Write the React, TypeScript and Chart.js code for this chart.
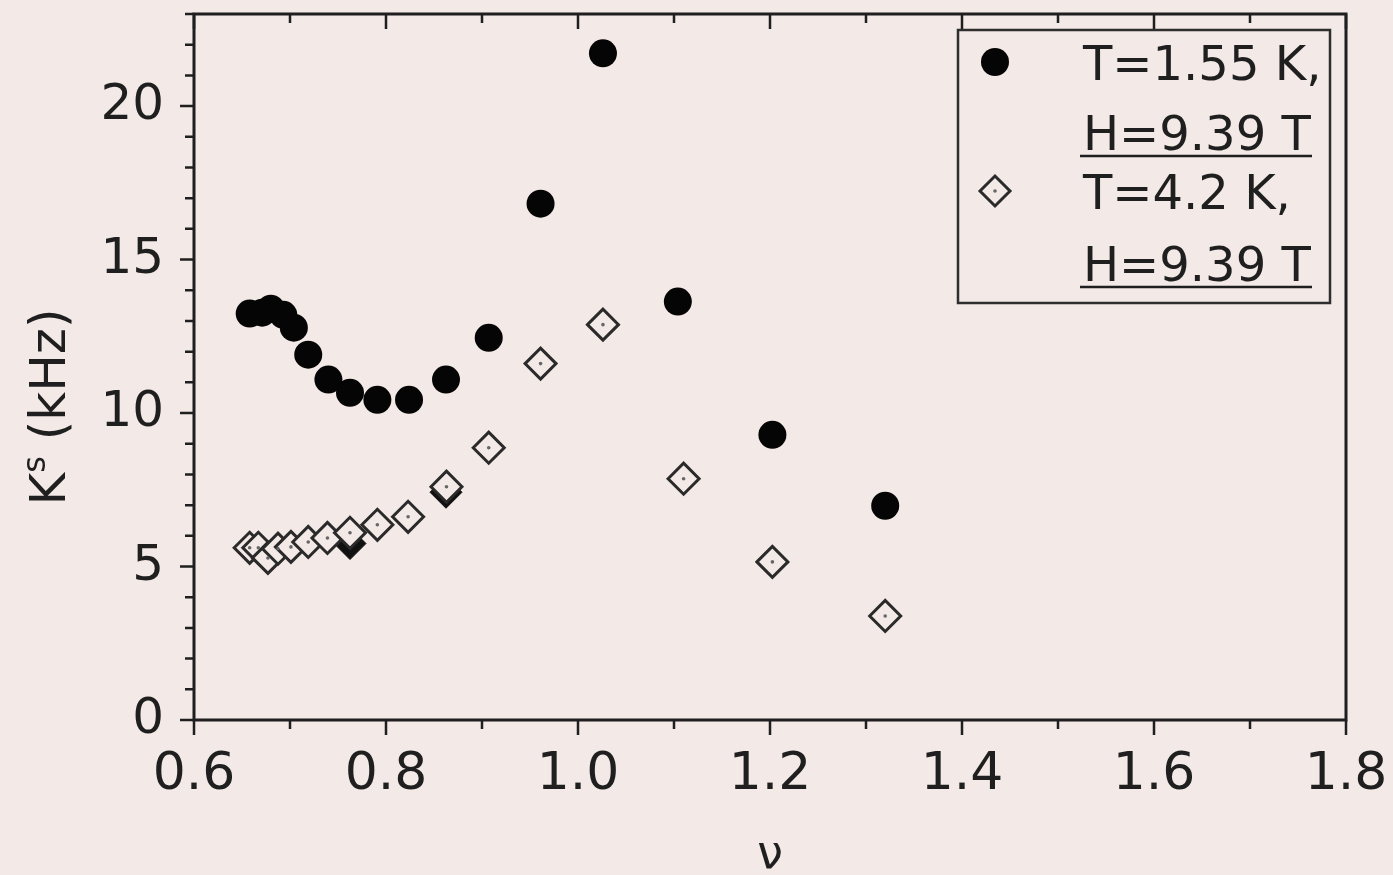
import React, { useEffect, useRef } from 'react';
import { Chart, registerables } from 'chart.js';

Chart.register(...registerables);

// T = 1.55 K, H = 9.39 T  (filled circles)
const nuCold = [0.658, 0.671, 0.680, 0.693, 0.704, 0.719, 0.740, 0.7625, 0.791, 0.824, 0.8625, 0.907, 0.961, 1.026, 1.104, 1.2025, 1.320];
const ksCold = [13.24, 13.27, 13.40, 13.20, 12.78, 11.90, 11.09, 10.66, 10.43, 10.43, 11.09, 12.45, 16.82, 21.72, 13.63, 9.29, 6.98];

// T = 4.2 K, H = 9.39 T  (open diamonds)
const nuWarm = [0.658, 0.667, 0.677, 0.6875, 0.701, 0.719, 0.739, 0.7625, 0.791, 0.823, 0.863, 0.907, 0.961, 1.026, 1.110, 1.2025, 1.320];
const ksWarm = [5.61, 5.61, 5.28, 5.58, 5.64, 5.80, 5.93, 6.10, 6.36, 6.62, 7.60, 8.87, 11.61, 12.88, 7.86, 5.15, 3.39];

// dark marks partly hidden beneath two diamonds
const nuHidden = [0.7625, 0.8625];
const ksHidden = [5.75, 7.42];

const xMin = 0.6;
const xMax = 1.8;
const yMin = 0;
const yMax = 23;
const xMajorStep = 0.2;
const yMajorStep = 5;

const legendLabels = ['T=1.55 K,', 'H=9.39 T', 'T=4.2 K,', 'H=9.39 T'];
const xTitle = 'ν';
const yTitleMain = 'K';
const yTitleSup = 's';
const yTitleRest = ' (kHz)';

const BG = '#f3e9e6';
const INK = '#1f1f1f';
const FONT = '"DejaVu Sans", "Liberation Sans", sans-serif';

const toPts = (xs: number[], ys: number[]) => xs.map((x, i) => ({ x, y: ys[i] }));

function drawDiamond(ctx: CanvasRenderingContext2D, x: number, y: number, r: number) {
  ctx.beginPath();
  ctx.moveTo(x - r, y);
  ctx.lineTo(x, y - r);
  ctx.lineTo(x + r, y);
  ctx.lineTo(x, y + r);
  ctx.closePath();
}

const framePlugin = {
  id: 'frame',
  beforeDraw(chart: any) {
    const { ctx, width, height } = chart;
    ctx.save();
    ctx.fillStyle = BG;
    ctx.fillRect(0, 0, width, height);
    ctx.restore();
  },
  beforeDatasetsDraw(chart: any) {
    const { ctx, chartArea } = chart;
    const xs = chart.scales.x;
    const ys = chart.scales.y;
    const { left, right, top, bottom } = chartArea;
    ctx.save();
    ctx.strokeStyle = INK;
    ctx.lineWidth = 3;
    ctx.lineCap = 'butt';
    // frame
    ctx.beginPath();
    ctx.moveTo(left, top);
    ctx.lineTo(right, top);
    ctx.moveTo(left, bottom);
    ctx.lineTo(right, bottom);
    ctx.moveTo(left, top - 1.5);
    ctx.lineTo(left, bottom + 1.5);
    ctx.moveTo(right, top - 1.5);
    ctx.lineTo(right, bottom + 1.5);
    ctx.stroke();
    // x ticks (bottom outward, top inward)
    ctx.lineWidth = 2.5;
    ctx.beginPath();
    const nX = Math.round((xMax - xMin) / (xMajorStep / 2));
    for (let i = 0; i <= nX; i++) {
      const v = xMin + (i * xMajorStep) / 2;
      const px = xs.getPixelForValue(v);
      const len = i % 2 === 0 ? 15 : 9;
      ctx.moveTo(px, bottom);
      ctx.lineTo(px, bottom + len);
      ctx.moveTo(px, top);
      ctx.lineTo(px, top + len);
    }
    // y ticks (left outward)
    for (let j = yMin; j <= yMax; j++) {
      const py = ys.getPixelForValue(j);
      const len = j % yMajorStep === 0 ? 14 : 9;
      ctx.moveTo(left - len, py);
      ctx.lineTo(left, py);
    }
    ctx.stroke();

    // axis titles
    ctx.fillStyle = INK;
    ctx.textAlign = 'center';
    ctx.textBaseline = 'alphabetic';
    ctx.font = `46px ${FONT}`;
    ctx.fillText(xTitle, (left + right) / 2, 868);

    ctx.save();
    ctx.translate(65, (top + bottom) / 2 + 40);
    ctx.rotate(-Math.PI / 2);
    ctx.font = `50px ${FONT}`;
    const wK = ctx.measureText(yTitleMain).width;
    const wRest = ctx.measureText(yTitleRest).width;
    ctx.font = `32px ${FONT}`;
    const wS = ctx.measureText(yTitleSup).width;
    const total = wK + wS + wRest;
    let cx = -total / 2;
    ctx.textAlign = 'left';
    ctx.font = `50px ${FONT}`;
    ctx.fillText(yTitleMain, cx, 0);
    cx += wK;
    ctx.font = `32px ${FONT}`;
    ctx.fillText(yTitleSup, cx, -20);
    cx += wS;
    ctx.font = `50px ${FONT}`;
    ctx.fillText(yTitleRest, cx, 0);
    ctx.restore();
    ctx.restore();
  },
  afterDraw(chart: any) {
    const { ctx } = chart;
    ctx.save();
    // legend box
    ctx.strokeStyle = '#2e2e2e';
    ctx.lineWidth = 2.5;
    ctx.strokeRect(958, 30, 372, 273);
    // markers
    ctx.fillStyle = '#050505';
    ctx.beginPath();
    ctx.arc(995, 62, 14, 0, Math.PI * 2);
    ctx.fill();
    drawDiamond(ctx, 995, 191, 15);
    ctx.fillStyle = BG;
    ctx.fill();
    ctx.lineWidth = 3;
    ctx.strokeStyle = '#2a2a2a';
    ctx.stroke();
    ctx.fillStyle = '#666';
    ctx.beginPath();
    ctx.arc(995, 191, 1.8, 0, Math.PI * 2);
    ctx.fill();
    // texts
    ctx.fillStyle = INK;
    ctx.font = `48px ${FONT}`;
    ctx.textAlign = 'left';
    ctx.textBaseline = 'alphabetic';
    const baselines = [80, 150, 209, 281];
    legendLabels.forEach((t, i) => ctx.fillText(t, 1083, baselines[i]));
    // underlines
    ctx.strokeStyle = INK;
    ctx.lineWidth = 2.5;
    ctx.beginPath();
    ctx.moveTo(1080, 156);
    ctx.lineTo(1312, 156);
    ctx.moveTo(1080, 287);
    ctx.lineTo(1312, 287);
    ctx.stroke();
    ctx.restore();
  },
};

export default function App() {
  const ref = useRef<HTMLCanvasElement | null>(null);

  useEffect(() => {
    document.body.style.margin = '0';
    document.body.style.background = BG;
    const canvas = ref.current;
    if (!canvas) return;
    const chart = new Chart(canvas, {
      type: 'scatter',
      data: {
        datasets: [
          {
            label: 'center dots',
            data: toPts(nuWarm, ksWarm),
            pointStyle: 'circle',
            pointRadius: 1.8,
            pointBackgroundColor: '#666',
            pointBorderWidth: 0,
            order: 0,
          },
          {
            label: 'T=4.2 K, H=9.39 T',
            data: toPts(nuWarm, ksWarm),
            pointStyle: 'rectRot',
            pointRadius: 15.5,
            pointBackgroundColor: BG,
            pointBorderColor: '#2a2a2a',
            pointBorderWidth: 3,
            order: 1,
          },
          {
            label: 'T=1.55 K, H=9.39 T',
            data: toPts(nuCold, ksCold),
            pointStyle: 'circle',
            pointRadius: 14,
            pointBackgroundColor: '#050505',
            pointBorderWidth: 0,
            order: 2,
          },
          {
            label: 'hidden',
            data: toPts(nuHidden, ksHidden),
            pointStyle: 'rectRot',
            pointRadius: 16,
            pointBackgroundColor: '#111',
            pointBorderColor: '#111',
            pointBorderWidth: 1,
            order: 3,
          },
        ],
      },
      options: {
        responsive: false,
        devicePixelRatio: 1,
        animation: false,
        events: [],
        layout: { autoPadding: false, padding: { left: 0, top: 14, right: 47, bottom: 0 } },
        plugins: {
          legend: { display: false },
          tooltip: { enabled: false },
        },
        scales: {
          x: {
            type: 'linear',
            min: xMin,
            max: xMax,
            grid: { display: false, drawTicks: false },
            border: { display: false },
            ticks: {
              stepSize: xMajorStep,
              color: INK,
              font: { family: FONT, size: 52 },
              padding: 24,
              callback: (v: any) => Number(v).toFixed(1),
            },
            afterFit: (s: any) => {
              s.height = 155;
              s.paddingLeft = 0;
              s.paddingRight = 0;
            },
          },
          y: {
            type: 'linear',
            min: yMin,
            max: yMax,
            grid: { display: false, drawTicks: false },
            border: { display: false },
            ticks: {
              stepSize: yMajorStep,
              includeBounds: false,
              color: INK,
              font: { family: FONT, size: 50 },
              padding: 30,
              callback: (v: any) => (Number(v) % yMajorStep === 0 ? String(v) : ''),
            },
            afterFit: (s: any) => {
              s.width = 194;
              s.paddingTop = 0;
              s.paddingBottom = 0;
            },
          },
        },
      },
      plugins: [framePlugin],
    });
    return () => chart.destroy();
  }, []);

  return (
    <div style={{ width: 1393, height: 875 }}>
      <canvas ref={ref} width={1393} height={875} style={{ display: 'block' }} />
    </div>
  );
}
